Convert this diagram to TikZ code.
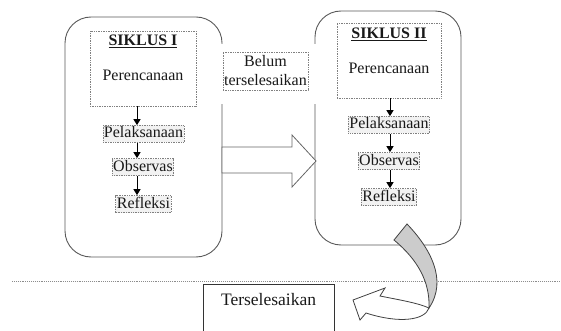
\documentclass[tikz,border=0pt]{standalone}
\usepackage{fontspec}
\setmainfont{Liberation Serif}
\usetikzlibrary{arrows.meta}
\begin{document}
\begin{tikzpicture}[x=1pt,y=-1pt,
  every node/.style={font=\fontsize{16}{19}\selectfont, text=black!90},
  cyclebox/.style={draw=black!65, line width=0.9pt, rounded corners=26pt},
  planbox/.style={draw=black!50, densely dotted, line width=0.7pt, inner sep=0pt},
  stepbox/.style={draw=black!50, densely dotted, line width=0.7pt, fill=black!5, inner sep=1pt, text height=11.5pt, text depth=3.5pt},
  belumbox/.style={draw=black!50, densely dotted, line width=0.7pt, fill=white, align=center, inner sep=1pt, minimum width=85pt, minimum height=38pt},
  termbox/.style={draw=black!80, line width=1.3pt},
  arr/.style={-{Triangle[length=6pt,width=7pt]}, line width=1pt, black},
  blockarrow/.style={draw=black!60, line width=0.8pt, fill=white, line join=miter},
  curvarr/.style={draw=black!75, line width=0.8pt}]
\useasboundingbox (0,0) rectangle (561,331);
\clip (0,0) rectangle (561,331);

% cycle frames
\draw[cyclebox] (65,17) rectangle (222,257);
\draw[cyclebox] (315,11) rectangle (461,245);

% white margin of the text box between the frames
\fill[white] (214,44) rectangle (322,104);
\node[belumbox] (belum) at (265.5,71) {Belum\\terselesaikan};

% cycle I
\node[planbox, minimum width=106pt, minimum height=75pt] (plan1) at (143,68.5) {};
\node (sik1) at (143,41) {\textbf{\underline{SIKLUS I}}};
\node (per1) at (143,75) {Perencanaan};
\node[stepbox] (pel1) at (143.5,134) {Pelaksanaan};
\node[stepbox] (obs1) at (143,167) {Observas};
\node[stepbox] (ref1) at (143.5,204) {Refleksi};
\coordinate (ax1) at (137,0);
\draw[arr] (plan1.south -| ax1) -- (pel1.north -| ax1);
\draw[arr] (pel1.south -| ax1) -- (obs1.north -| ax1);
\draw[arr] (obs1.south -| ax1) -- (ref1.north -| ax1);

% cycle II
\node[planbox, minimum width=104pt, minimum height=75pt] (plan2) at (389,60.5) {};
\node (sik2) at (389,34) {\textbf{\underline{SIKLUS II}}};
\node (per2) at (389,68) {Perencanaan};
\node[stepbox] (pel2) at (389,125) {Pelaksanaan};
\node[stepbox] (obs2) at (389,161) {Observas};
\node[stepbox] (ref2) at (389,197) {Refleksi};
\coordinate (ax2) at (390,0);
\draw[arr] (plan2.south -| ax2) -- (pel2.north -| ax2);
\draw[arr] (pel2.south -| ax2) -- (obs2.north -| ax2);
\draw[arr] (obs2.south -| ax2) -- (ref2.north -| ax2);

% block arrow from cycle I to cycle II
\draw[blockarrow] (222,147) -- (292,147) -- (292,135) -- (316,161) -- (292,187) -- (292,173) -- (222,173) -- cycle;

% separator line
\draw[black!45, densely dotted, line width=0.9pt] (12,281) -- (561,281);

% result box
\node[termbox, anchor=north west, minimum width=131pt, minimum height=70pt] (term) at (203,284) {};
\node[font=\fontsize{17.5}{20}\selectfont] (termtxt) at (268.5,300) {Terselesaikan};

% curved arrow
\draw[curvarr, fill=white] (380,296) .. controls (400,300) and (418,303) .. (429,308) .. controls (425,320) and (400,324) .. (366,313) -- (360,320) -- (353,300) -- (385,288) -- cycle;
\draw[curvarr, fill=black!20] (394,240) -- (407,224) .. controls (430,248) and (448,280) .. (429,308) .. controls (430,282) and (418,260) .. (394,240) -- cycle;
\end{tikzpicture}
\end{document}
